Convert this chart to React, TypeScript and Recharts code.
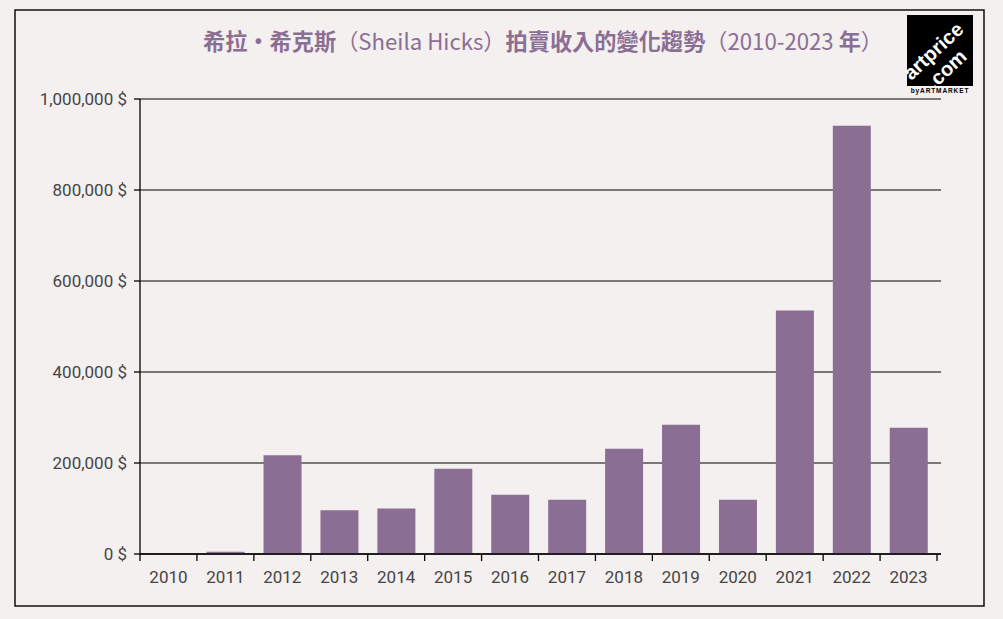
import React from 'react';
import { BarChart, Bar, XAxis, YAxis, CartesianGrid } from 'recharts';

const YEARS = ['2010', '2011', '2012', '2013', '2014', '2015', '2016', '2017', '2018', '2019', '2020', '2021', '2022', '2023'];
const REVENUE_USD = [0, 5000, 217000, 96000, 100000, 187500, 130000, 119500, 231500, 284000, 119500, 535000, 941000, 277500];
const Y_TICKS = [0, 200000, 400000, 600000, 800000, 1000000];
const TITLE_PARTS: [string, number][] = [
  ['希拉・希克斯', 700],
  ['（Sheila Hicks）', 400],
  ['拍賣收入的變化趨勢', 700],
  ['（2010-2023 ', 400],
  ['年', 700],
  ['）', 400],
];

const data = YEARS.map((year, i) => ({ year, value: REVENUE_USD[i] }));

const W = 1003;
const H = 619;
const BG = '#f4f0ef';
const PURPLE = '#8b6e94';
const TEXT = '#454545';
const FONT = 'Roboto, "DejaVu Sans", sans-serif';

const fmtY = (v: number) => `${v.toLocaleString('en-US')} $`;

const XTick = (props: any) => {
  const { x, y, payload, index } = props;
  const half = payload && payload.offset ? payload.offset : 796 / YEARS.length / 2;
  return (
    <g>
      <line x1={x - half} x2={x - half} y1={y} y2={y + 7} stroke="#000" strokeWidth={1.3} />
      {index === YEARS.length - 1 && (
        <line x1={x + half} x2={x + half} y1={y} y2={y + 7} stroke="#000" strokeWidth={1.3} />
      )}
      <text x={x} y={y + 29} textAnchor="middle" fill={TEXT} fontSize={17} fontFamily={FONT}>
        {payload.value}
      </text>
    </g>
  );
};

export default function App() {
  return (
    <div style={{ position: 'fixed', left: 0, top: 0, width: W, height: H, background: BG }}>
      <BarChart
        width={W}
        height={H}
        data={data}
        margin={{ top: 99, right: 62, bottom: 0, left: 0 }}
        barCategoryGap="17%"
      >
        <CartesianGrid vertical={false} stroke="#000" strokeWidth={1.2} />
        <XAxis
          dataKey="year"
          height={65}
          tickLine={false}
          tickSize={0}
          tickMargin={0}
          padding={{ left: 0, right: 4 }}
          axisLine={{ stroke: '#000', strokeWidth: 1.3 }}
          tick={<XTick />}
          interval={0}
        />
        <YAxis
          width={140}
          domain={[0, 1000000]}
          ticks={Y_TICKS}
          tickFormatter={fmtY}
          tickSize={6}
          tickMargin={7}
          tickLine={{ stroke: '#000', strokeWidth: 1.3 }}
          axisLine={{ stroke: '#000', strokeWidth: 1.3 }}
          tick={{ fill: TEXT, fontSize: 17, fontFamily: FONT }}
        />
        <Bar dataKey="value" fill={PURPLE} isAnimationActive={false} />
      </BarChart>
      <svg
        width={W}
        height={H}
        style={{ position: 'absolute', left: 0, top: 0, pointerEvents: 'none' }}
      >
        <rect x={15} y={10} width={969} height={596} fill="none" stroke="#111" strokeWidth={1.5} />
        <text
          x={543}
          y={50}
          textAnchor="middle"
          fill={PURPLE}
          fontSize={22.2}
          fontFamily='"Noto Sans CJK TC", "Noto Sans CJK SC", sans-serif'
        >
          {TITLE_PARTS.map(([t, w], i) => (
            <tspan key={i} fontWeight={w}>
              {t}
            </tspan>
          ))}
        </text>
        <defs>
          <clipPath id="logoClip">
            <rect x={907} y={15} width={66} height={71} />
          </clipPath>
        </defs>
        <rect x={907} y={15} width={66} height={71} fill="#000" />
        <g clipPath="url(#logoClip)">
          <text
            x={938}
            y={56}
            textAnchor="middle"
            fill="#fff"
            fontSize={20}
            fontWeight={700}
            fontFamily='"Liberation Sans", Arial, sans-serif'
            transform="rotate(-43 938 56)"
          >
            artprice
          </text>
          <text
            x={951}
            y={74}
            textAnchor="middle"
            fill="#fff"
            fontSize={20}
            fontWeight={700}
            fontFamily='"Liberation Sans", Arial, sans-serif'
            transform="rotate(-43 951 74)"
          >
            .com
          </text>
        </g>
        <text
          x={940}
          y={93}
          textAnchor="middle"
          fill="#000"
          fontSize={6.5}
          fontWeight={700}
          letterSpacing={0.9}
          fontFamily='"Liberation Sans", Arial, sans-serif'
        >
          byARTMARKET
        </text>
      </svg>
    </div>
  );
}
